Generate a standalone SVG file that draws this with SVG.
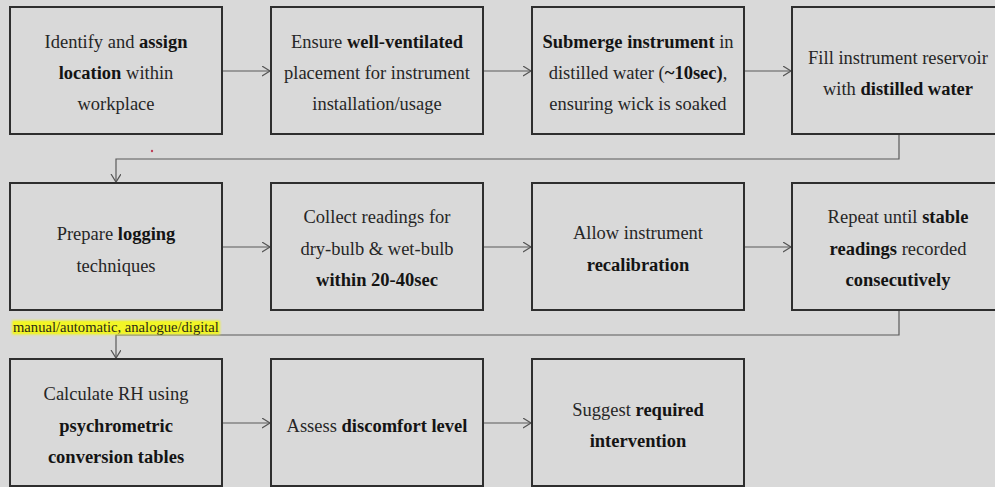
<svg xmlns="http://www.w3.org/2000/svg" width="995" height="487" viewBox="0 0 995 487">
  <defs>
    <marker id="chev" markerUnits="userSpaceOnUse" markerWidth="10" markerHeight="12" refX="8" refY="5" orient="auto">
      <path d="M0,0 L8,5 L0,10" fill="none" stroke="#555" stroke-width="1.2"/>
    </marker>
    <filter id="soft" x="-5%" y="-30%" width="110%" height="160%">
      <feGaussianBlur stdDeviation="1.2"/>
    </filter>
  </defs>
  <style>
    .box { fill: #d9d9d9; stroke: #2e2e2e; stroke-width: 2; }
    .t { font-family: 'Liberation Serif', 'Tinos', 'Times New Roman', 'DejaVu Serif', serif; font-size: 18.5px; fill: #262626; text-anchor: middle; }
    .b { font-weight: bold; fill: #141414; }
    .conn { fill: none; stroke: #5a5a5a; stroke-width: 1.2; }
    .note { font-family: 'Liberation Serif', 'Tinos', 'Times New Roman', 'DejaVu Serif', serif; font-size: 14.6px; fill: #2a2a14; }
  </style>

  <rect width="995" height="487" fill="#d9d9d9"/>

  <!-- connectors -->
  <g id="connectors">
    <line class="conn" x1="222" y1="71" x2="270" y2="71" marker-end="url(#chev)"/>
    <line class="conn" x1="483" y1="71" x2="531" y2="71" marker-end="url(#chev)"/>
    <line class="conn" x1="744" y1="71" x2="791" y2="71" marker-end="url(#chev)"/>
    <path class="conn" d="M899,134 V159 H116 V182" marker-end="url(#chev)"/>
    <line class="conn" x1="222" y1="247" x2="270" y2="247" marker-end="url(#chev)"/>
    <line class="conn" x1="483" y1="247" x2="531" y2="247" marker-end="url(#chev)"/>
    <line class="conn" x1="744" y1="247" x2="791" y2="247" marker-end="url(#chev)"/>
    <path class="conn" d="M899,310 V335 H116 V358" marker-end="url(#chev)"/>
    <line class="conn" x1="222" y1="423" x2="270" y2="423" marker-end="url(#chev)"/>
    <line class="conn" x1="483" y1="423" x2="531" y2="423" marker-end="url(#chev)"/>
  </g>

  <!-- stray mark -->
  <circle cx="152" cy="151" r="1.2" fill="#c0405a"/>

  <!-- highlighted annotation under the logging step -->
  <g id="note-logging">
    <rect x="12" y="320.5" width="208" height="14" fill="#eef22a" filter="url(#soft)"/>
    <rect x="13" y="321.5" width="206" height="12" fill="#f2f526"/>
    <text class="note" x="13" y="331.5">manual/automatic, analogue/digital</text>
  </g>

  <!-- row 1 -->
  <g id="step-assign-location">
    <rect class="box" x="10" y="7" width="212" height="127"/>
    <text class="t"><tspan x="116" y="48">Identify and <tspan class="b">assign</tspan></tspan><tspan x="116" y="79"><tspan class="b">location</tspan> within</tspan><tspan x="116" y="110">workplace</tspan></text>
  </g>
  <g id="step-ventilation">
    <rect class="box" x="271" y="7" width="212" height="127"/>
    <text class="t"><tspan x="377" y="48">Ensure <tspan class="b">well-ventilated</tspan></tspan><tspan x="377" y="79">placement for instrument</tspan><tspan x="377" y="110">installation/usage</tspan></text>
  </g>
  <g id="step-submerge">
    <rect class="box" x="532" y="7" width="212" height="127"/>
    <text class="t"><tspan x="638" y="48"><tspan class="b">Submerge instrument</tspan> in</tspan><tspan x="638" y="79">distilled water (<tspan class="b">~10sec)</tspan>,</tspan><tspan x="638" y="110">ensuring wick is soaked</tspan></text>
  </g>
  <g id="step-fill-reservoir">
    <rect class="box" x="792" y="7" width="212" height="127"/>
    <text class="t"><tspan x="898" y="64">Fill instrument reservoir</tspan><tspan x="898" y="95">with <tspan class="b">distilled water</tspan></tspan></text>
  </g>

  <!-- row 2 -->
  <g id="step-logging">
    <rect class="box" x="10" y="183" width="212" height="127"/>
    <text class="t"><tspan x="116" y="240">Prepare <tspan class="b">logging</tspan></tspan><tspan x="116" y="272">techniques</tspan></text>
  </g>
  <g id="step-collect">
    <rect class="box" x="271" y="183" width="212" height="127"/>
    <text class="t"><tspan x="377" y="223">Collect readings for</tspan><tspan x="377" y="255">dry-bulb &amp; wet-bulb</tspan><tspan x="377" y="286" class="b">within 20-40sec</tspan></text>
  </g>
  <g id="step-recalibration">
    <rect class="box" x="532" y="183" width="212" height="127"/>
    <text class="t"><tspan x="638" y="239">Allow instrument</tspan><tspan x="638" y="271" class="b">recalibration</tspan></text>
  </g>
  <g id="step-repeat">
    <rect class="box" x="792" y="183" width="212" height="127"/>
    <text class="t"><tspan x="898" y="223">Repeat until <tspan class="b">stable</tspan></tspan><tspan x="898" y="255"><tspan class="b">readings</tspan> recorded</tspan><tspan x="898" y="286" class="b">consecutively</tspan></text>
  </g>

  <!-- row 3 -->
  <g id="step-calculate-rh">
    <rect class="box" x="10" y="359" width="212" height="127"/>
    <text class="t"><tspan x="116" y="400">Calculate RH using</tspan><tspan x="116" y="432" class="b">psychrometric</tspan><tspan x="116" y="463" class="b">conversion tables</tspan></text>
  </g>
  <g id="step-discomfort">
    <rect class="box" x="271" y="359" width="212" height="127"/>
    <text class="t"><tspan x="377" y="432">Assess <tspan class="b">discomfort level</tspan></tspan></text>
  </g>
  <g id="step-intervention">
    <rect class="box" x="532" y="359" width="212" height="127"/>
    <text class="t"><tspan x="638" y="416">Suggest <tspan class="b">required</tspan></tspan><tspan x="638" y="447" class="b">intervention</tspan></text>
  </g>
</svg>
